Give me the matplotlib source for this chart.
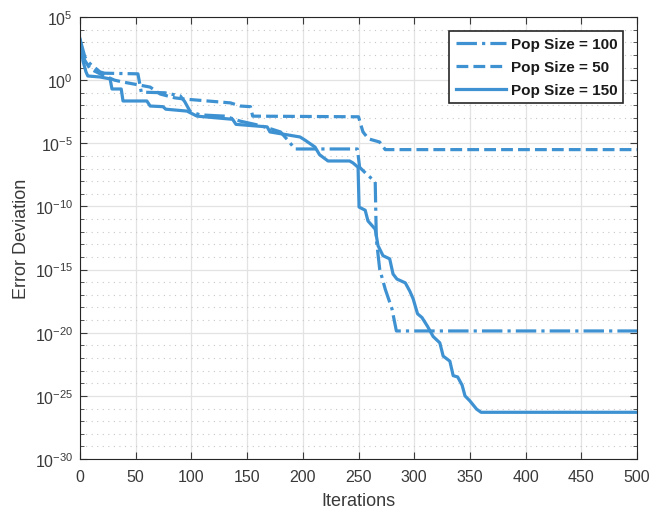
import matplotlib
matplotlib.use("Agg")
import matplotlib.pyplot as plt
from matplotlib.ticker import FixedLocator, NullFormatter

# breakpoints: iteration, log10(error)
it_100 = [0, 4.5, 9, 18, 22, 52, 55, 76, 90, 94, 99, 108, 130, 144, 162, 180, 187, 193,
          249, 251, 258, 265, 266, 269, 274, 280, 284, 500]
lg_100 = [3.25, 1.8, 1.3, 0.65, 0.55, 0.5, -0.95, -1.0, -1.25, -1.7, -2.5, -2.75, -2.85,
          -3.25, -3.6, -4.1, -4.8, -5.45, -5.45, -6.9, -7.5, -8.05, -12.6, -14.95, -16.55,
          -18.1, -19.86, -19.86]

it_50 = [0, 3.6, 9, 18, 31, 38.6, 54, 63, 72, 85, 94, 108, 135, 144, 153, 155,
         250, 254, 259, 269, 274, 500]
lg_50 = [3.1, 1.67, 0.9, 0.5, 0.0, -0.15, -0.4, -0.55, -1.1, -1.4, -1.5, -1.6, -1.8,
         -2.05, -2.1, -2.85, -2.9, -4.1, -4.65, -4.9, -5.5, -5.5]

it_150 = [0, 2.7, 5.4, 7, 18, 27, 28.7, 37, 38.6, 60, 63, 74.5, 77, 96, 105, 137, 140,
          168, 170.5, 197.5, 202, 211, 215, 222.6, 242, 245, 249.6, 250.5, 256, 258.5,
          265, 267.5, 272, 278, 281, 284.5, 292, 296, 299, 303, 307, 312, 317, 323, 326,
          332, 335, 339, 343, 345.6, 350, 356, 360, 500]
lg_150 = [3.25, 1.5, 0.65, 0.33, 0.25, 0.1, -0.7, -0.7, -1.65, -1.65, -2.05, -2.1, -2.3,
          -2.45, -2.85, -3.1, -3.5, -3.7, -4.1, -4.5, -4.75, -5.3, -5.9, -6.4, -6.4,
          -6.55, -6.9, -10.05, -10.3, -11.15, -11.8, -13.1, -13.9, -14.15, -15.35,
          -15.75, -16.05, -16.7, -17.3, -18.5, -18.8, -19.5, -20.3, -20.8, -21.85,
          -22.25, -23.4, -23.5, -24.15, -25.0, -25.4, -26.05, -26.3, -26.3]

major_exp = [5, 0, -5, -10, -15, -20, -25, -30]
x_ticks = [0, 50, 100, 150, 200, 250, 300, 350, 400, 450, 500]

plt.rcParams['font.family'] = ['Liberation Sans', 'DejaVu Sans']
plt.rcParams['mathtext.default'] = 'regular'

col = '#3f92d2'
txt = '#3a3a3a'

fig = plt.figure(figsize=(6.52, 5.10), dpi=100)
ax = fig.add_axes([0.1227, 0.098, 0.8543, 0.8667])

ax.semilogy(it_100, [10.0 ** v for v in lg_100], '-.', color=col, lw=2.3, label='Pop Size = 100')
ax.semilogy(it_50, [10.0 ** v for v in lg_50], '--', color=col, lw=2.3, label='Pop Size = 50')
ax.semilogy(it_150, [10.0 ** v for v in lg_150], '-', color=col, lw=2.3, label='Pop Size = 150')

ax.set_xlim(0, 500)
ax.set_ylim(1e-30, 1e5)
ax.set_xticks(x_ticks)
ax.yaxis.set_major_locator(FixedLocator([10.0 ** e for e in major_exp]))
ax.set_yticklabels([r'$10^{%d}$' % e for e in major_exp])
ax.yaxis.set_minor_locator(FixedLocator([10.0 ** e for e in range(-30, 6) if e % 5 != 0]))
ax.yaxis.set_minor_formatter(NullFormatter())

ax.grid(True, which='major', color='#e3e3e3', lw=0.9, ls='-')
ax.grid(True, which='minor', axis='y', color='#c8c8c8', lw=0.8, ls=(0, (1, 4)))
ax.set_axisbelow(True)

ax.tick_params(which='both', direction='in', top=True, right=True, colors=txt,
               labelsize=11.5)
ax.tick_params(which='major', length=5)
ax.tick_params(which='minor', length=3)
ax.tick_params(axis='x', pad=7)
ax.tick_params(axis='y', pad=5)
for s in ax.spines.values():
    s.set_color('#262626')
    s.set_linewidth(0.8)

ax.set_xlabel('Iterations', fontsize=13, color=txt, labelpad=6)
ax.set_ylabel('Error Deviation', fontsize=13, color=txt, labelpad=3)

leg = ax.legend(loc='upper right', fancybox=False, framealpha=1, edgecolor='#262626',
                prop={'weight': 'bold', 'size': 11}, handlelength=3.3,
                borderaxespad=0.9, labelspacing=0.6, handletextpad=0.3)
leg.get_frame().set_linewidth(1.2)
for t in leg.get_texts():
    t.set_color('#1a1a1a')

fig.savefig('out.png', dpi=100)
